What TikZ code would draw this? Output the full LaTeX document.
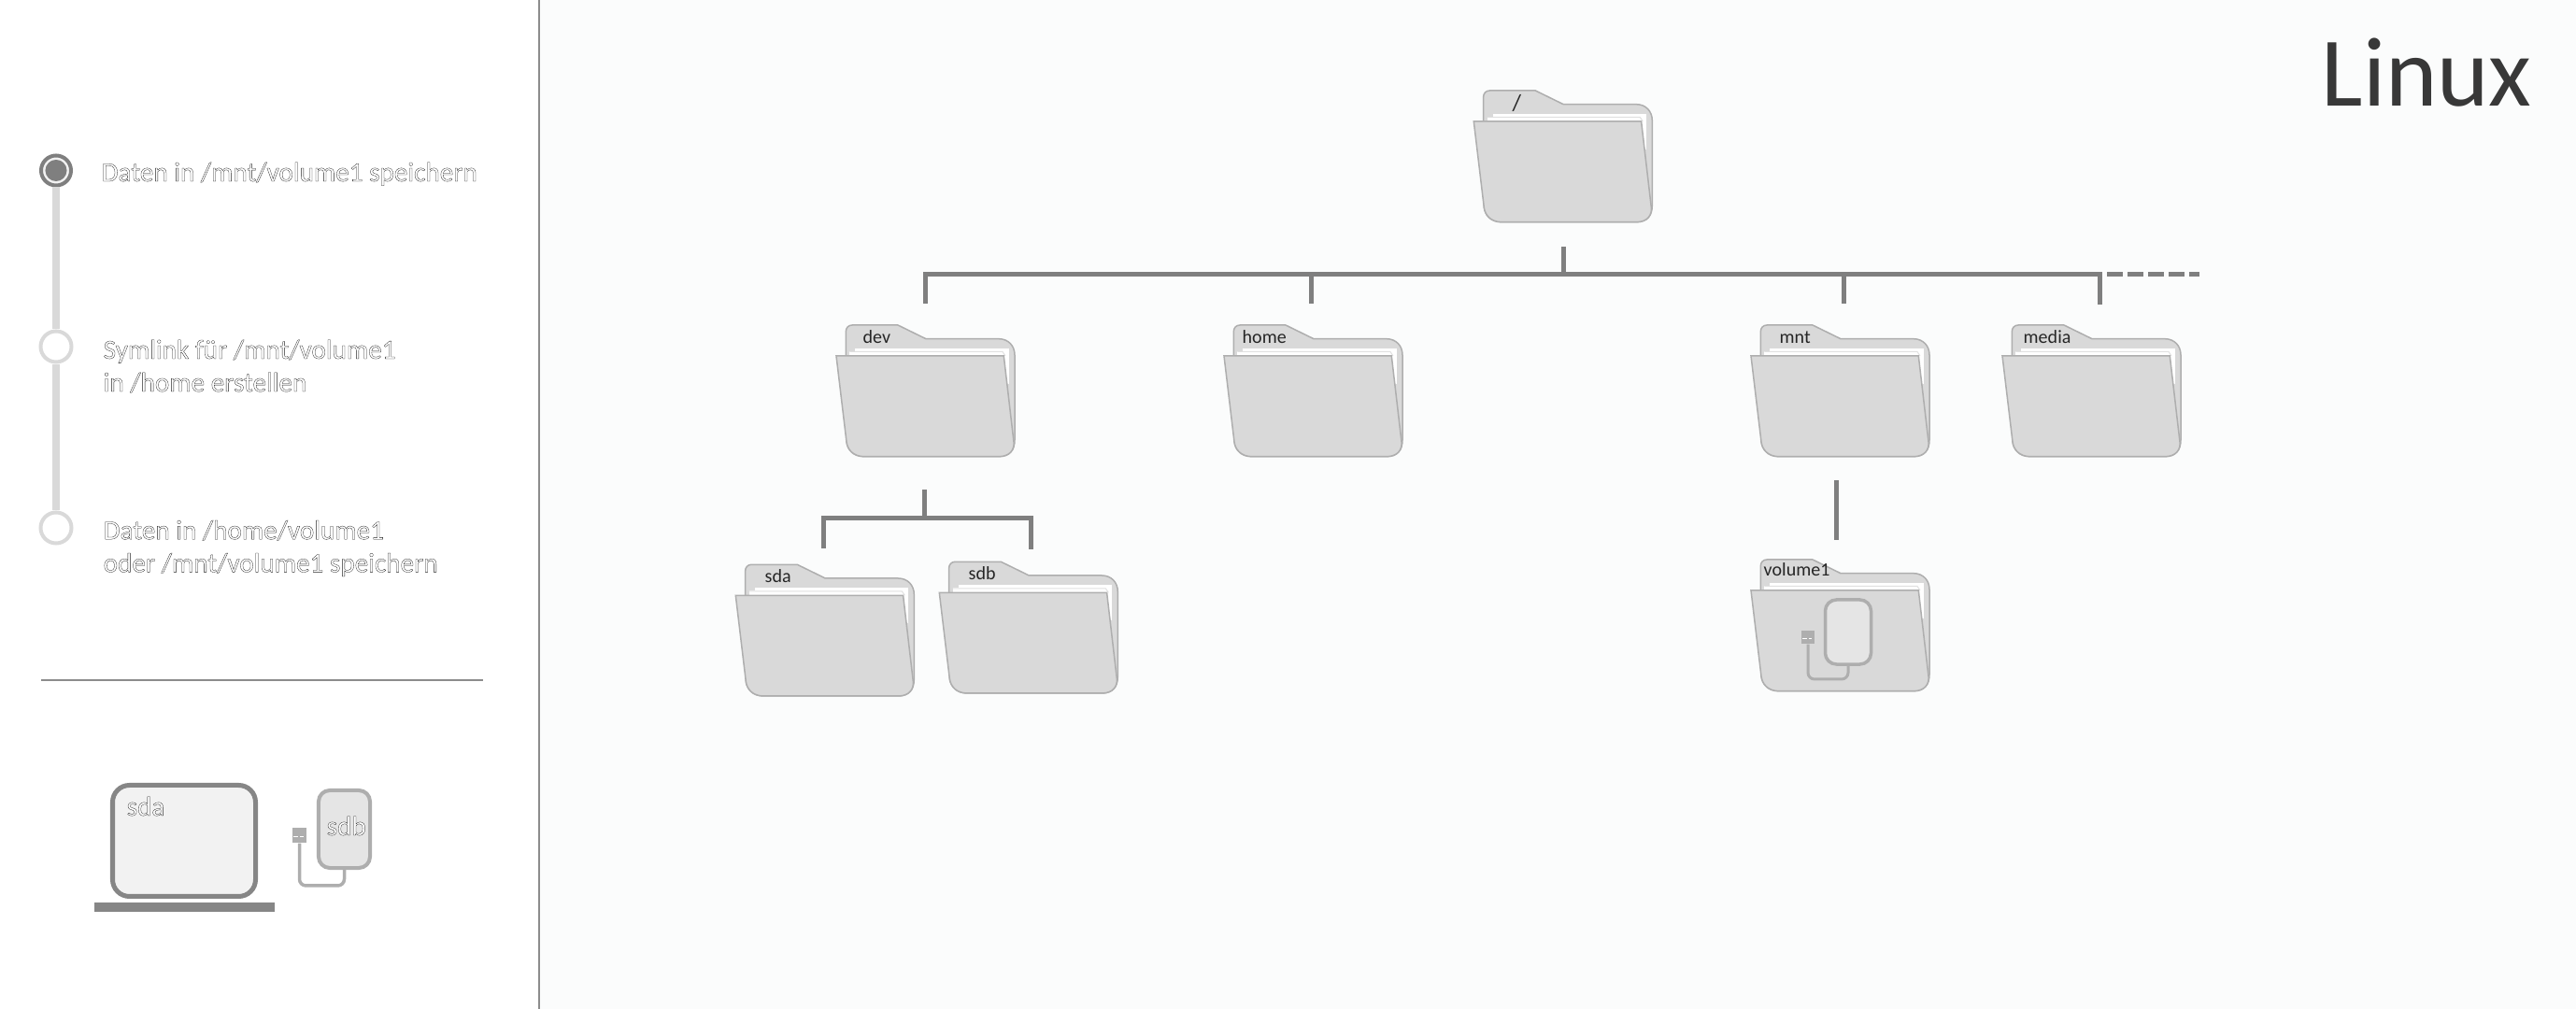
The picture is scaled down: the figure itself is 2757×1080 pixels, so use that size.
\documentclass[tikz,border=0pt]{standalone}
\usepackage{xcolor}
\usepackage{fontspec}
\setmainfont{Carlito}
\newfontfamily\sidefont[RawFeature={embolden=1}]{Carlito}
\newcommand{\outl}[1]{\special{pdf:bcolor [1] [0.12]}#1\special{pdf:ecolor}}
\definecolor{panelbg}{HTML}{FBFCFC}
\definecolor{treeline}{HTML}{7F7F7F}
\definecolor{folderfill}{HTML}{D9D9D9}
\definecolor{folderedge}{HTML}{AEAEAE}
\definecolor{tracklight}{HTML}{D9D9D9}
\definecolor{laptopline}{HTML}{868686}
\tikzset{
  folderlabel/.style={anchor=base west, inner sep=0pt, font=\fontsize{5.7}{7}\selectfont, text=black!85},
  sidetext/.style={anchor=west, inner sep=0pt, align=left, font=\sidefont\fontsize{8.3}{10}\selectfont},
  devtext/.style={anchor=base west, inner sep=0pt, font=\sidefont\fontsize{8.3}{10}\selectfont},
  track/.style={draw=tracklight, line width=0.07cm},
  stepdot/.style={circle, draw=tracklight, fill=white, line width=0.04cm, minimum size=0.33cm, inner sep=0pt},
  tree/.style={draw=treeline, line width=0.05cm},
  drivebox/.style={draw=folderedge, fill=black!10, rounded corners=0.12cm},
  drivecable/.style={draw=folderedge, line width=0.035cm, rounded corners=0.07cm},
  folder/.pic={
    \draw[fill=folderfill, draw=folderedge, line width=0.015cm]
      (10.3,2) -- (10.3,-26) .. controls (10.3,-30) and (13,-33) .. (17,-33) -- (66,-33) -- (96,-18.3)
      -- (174,-18.3) .. controls (184,-18.3) and (191,-11) .. (191,-1) -- (191,90)
      .. controls (191,100) and (186,107.7) .. (174,107.7) -- (30,107.7)
      .. controls (18,107.7) and (12,100) .. (11,92) -- cycle;
    \fill[white] (20.3,-8.3) rectangle (184.5,30);
    \fill[white] (14.3,-5) rectangle (178,0);
    \draw[black!12, line width=0.01cm] (14.3,-4.5) -- (178,-4.5) -- (181,0);
    \draw[fill=folderfill, draw=folderedge, line width=0.015cm]
      (0,0) -- (179.3,0) -- (190,92) .. controls (191,100) and (186,107.7) .. (174,107.7) -- (30,107.7)
      .. controls (18,107.7) and (12,100) .. (11,92) -- cycle;
  }
}
\begin{document}
\begin{tikzpicture}[x=0.01cm, y=-0.01cm]
    \useasboundingbox (0,0) rectangle (2757,1080);
    \fill[panelbg] (577,0) rectangle (2757,1080);
    \draw[black!45, line width=0.015cm] (577,0) -- (577,1080);

    \node[stepdot, draw=treeline, fill=black!5, minimum size=0.32cm] (stepa) at (60,182.5) {};
    \node[stepdot] (stepb) at (60,371) {};
    \node[stepdot] (stepc) at (60,565) {};
    \fill[treeline] (stepa) circle (0.115cm);
    \draw[track] (stepa) -- (stepb);
    \draw[track] (stepb) -- (stepc);
    \node[devtext] (texta) at (108,194) {\outl{Daten in /mnt/volume1 speichern}};
    \node[sidetext] (textb) at (110,392) {\outl{Symlink für /mnt/volume1\\in /home erstellen}};
    \node[sidetext] (textc) at (110,587) {\outl{Daten in /home/volume1\\oder /mnt/volume1 speichern}};
    \draw[black!45, line width=0.015cm] (44,728) -- (517,728);

    \draw[draw=laptopline, fill=black!5, line width=0.05cm, rounded corners=0.18cm] (120.5,840.5) rectangle (273.5,959.5);
    \fill[laptopline] (101,966) rectangle (294,976);
    \node[devtext] (sdalabel) at (135,873) {\outl{sda}};
    \node[drivebox, line width=0.04cm, minimum width=0.55cm, minimum height=0.83cm, inner sep=0pt] (sdbdrive) at (368.5,887.5) {};
    \node[devtext] (sdblabel) at (349,894) {\outl{sdb}};
    \node[fill=folderedge, minimum width=0.15cm, minimum height=0.16cm, inner sep=0pt] (sdbplug) at (320.5,894) {};
    \draw[white, line width=0.01cm, dash pattern=on 0.05cm off 0.02cm] (sdbplug.west) ++(2,2) -- ++(11,0);
    \coordinate (sdbturn) at (sdbplug |- 0,948);
    \draw[drivecable] (sdbplug) -- (sdbturn) -| (sdbdrive.south);

    \pic at (1577.3,130) {folder};
    \node[folderlabel, font=\fontsize{7}{8}\selectfont] (rootlabel) at (1618,119) {/};
    \pic at (895,381) {folder};
    \node[folderlabel] (devlabel) at (923,368) {dev};
    \pic at (1310,381) {folder};
    \node[folderlabel] (homelabel) at (1329,368) {home};
    \pic at (1874,381) {folder};
    \node[folderlabel] (mntlabel) at (1904,368) {mnt};
    \pic at (2143,381) {folder};
    \node[folderlabel] (medialabel) at (2165,368) {media};
    \pic at (787.3,637.3) {folder};
    \node[folderlabel] (sdafolder) at (818,624) {sda};
    \pic at (1005.3,634.3) {folder};
    \node[folderlabel] (sdbfolder) at (1036,621) {sdb};
    \pic at (1874,632) {folder};
    \node[folderlabel] (volumelabel) at (1887,617) {volume1};

    \node[drivebox, line width=0.035cm, minimum width=0.49cm, minimum height=0.69cm, inner sep=0pt] (voldrive) at (1978,676.5) {};
    \node[fill=folderedge, minimum width=0.14cm, minimum height=0.14cm, inner sep=0pt] (volplug) at (1935,682) {};
    \draw[white, line width=0.01cm, dash pattern=on 0.05cm off 0.02cm] (volplug.west) ++(2,2) -- ++(10,0);
    \coordinate (volturn) at (volplug |- 0,727);
    \draw[drivecable, line width=0.03cm] (volplug) -- (volturn) -| (voldrive.south);

    \coordinate (rootstem) at (1673,264);
    \coordinate (rootbus) at (1673,293.5);
    \coordinate (busr) at (2247,293.5);
    \coordinate (devstub) at (990,325);
    \coordinate (homebus) at (1403,293.5);
    \coordinate (homestub) at (1403,325);
    \coordinate (mntbus) at (1973,293.5);
    \coordinate (mntstub) at (1973,325);
    \coordinate (mediastub) at (2247,326);
    \coordinate (dasha) at (2255,293.5);
    \coordinate (dashb) at (2354,293.5);
    \coordinate (volstem) at (1965.3,514);
    \coordinate (volend) at (1965.3,578);
    \coordinate (devstem) at (989.3,524);
    \coordinate (devbus) at (989.3,554.5);
    \coordinate (sdastub) at (881.7,587);
    \coordinate (sdbstub) at (1103,588);
    \draw[tree] (rootstem) -- (rootbus);
    \draw[tree] (devstub) |- (busr) -- (mediastub);
    \draw[tree] (homebus) -- (homestub);
    \draw[tree] (mntbus) -- (mntstub);
    \draw[tree, dash pattern=on 0.17cm off 0.05cm] (dasha) -- (dashb);
    \draw[tree] (volstem) -- (volend);
    \draw[tree] (devstem) -- (devbus);
    \draw[tree] (sdastub) |- (devbus) -| (sdbstub);

    \node[anchor=base west, inner sep=0pt, font=\fontsize{30}{32}\selectfont, text=black!78] (title) at (2484,114) {Linux};
\end{tikzpicture}
\end{document}
